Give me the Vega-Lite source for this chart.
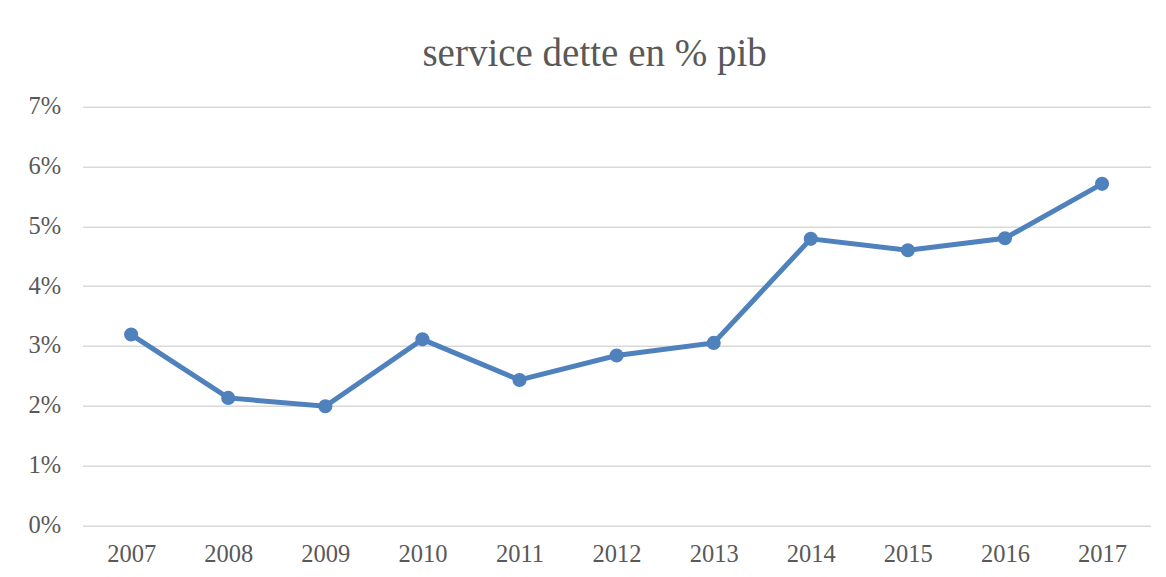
{
  "$schema": "https://vega.github.io/schema/vega-lite/v6.json",
  "autosize": "none",
  "width": 1068,
  "height": 418.6,
  "padding": {"left": 82.6, "top": 106.7, "right": 15.4, "bottom": 51.7},
  "background": "white",
  "title": {
    "text": "service dette en % pib",
    "font": "Liberation Serif",
    "fontSize": 39,
    "fontWeight": "normal",
    "color": "#595959",
    "anchor": "middle",
    "baseline": "alphabetic",
    "offset": -11,
    "dx": -22
  },
  "data": {
    "values": [
      {"year": "2007", "value": 0.0319},
      {"year": "2008", "value": 0.0213},
      {"year": "2009", "value": 0.0199},
      {"year": "2010", "value": 0.0311},
      {"year": "2011", "value": 0.0243},
      {"year": "2012", "value": 0.0284},
      {"year": "2013", "value": 0.0305},
      {"year": "2014", "value": 0.0479},
      {"year": "2015", "value": 0.0460},
      {"year": "2016", "value": 0.0480},
      {"year": "2017", "value": 0.0571}
    ]
  },
  "mark": {"type": "line", "color": "#4F81BD", "strokeWidth": 5, "point": {"filled": true, "size": 200, "color": "#4F81BD", "opacity": 1}},
  "encoding": {
    "x": {
      "field": "year", "type": "ordinal",
      "scale": {"type": "point", "padding": 0.5},
      "axis": {"title": null, "labelAngle": 0, "ticks": false, "domain": false, "labelFont": "Liberation Serif", "labelFontSize": 24.5, "labelColor": "#595959", "labelPadding": 17, "grid": false}
    },
    "y": {
      "field": "value", "type": "quantitative",
      "scale": {"domain": [0, 0.07], "nice": false},
      "axis": {"title": null, "values": [0, 0.01, 0.02, 0.03, 0.04, 0.05, 0.06, 0.07], "format": ".0%", "ticks": false, "domain": false, "labelFont": "Liberation Serif", "labelFontSize": 24.5, "labelColor": "#595959", "labelPadding": 22, "gridColor": "#D9D9D9", "gridWidth": 1.5}
    }
  },
  "config": {"view": {"stroke": null}}
}
